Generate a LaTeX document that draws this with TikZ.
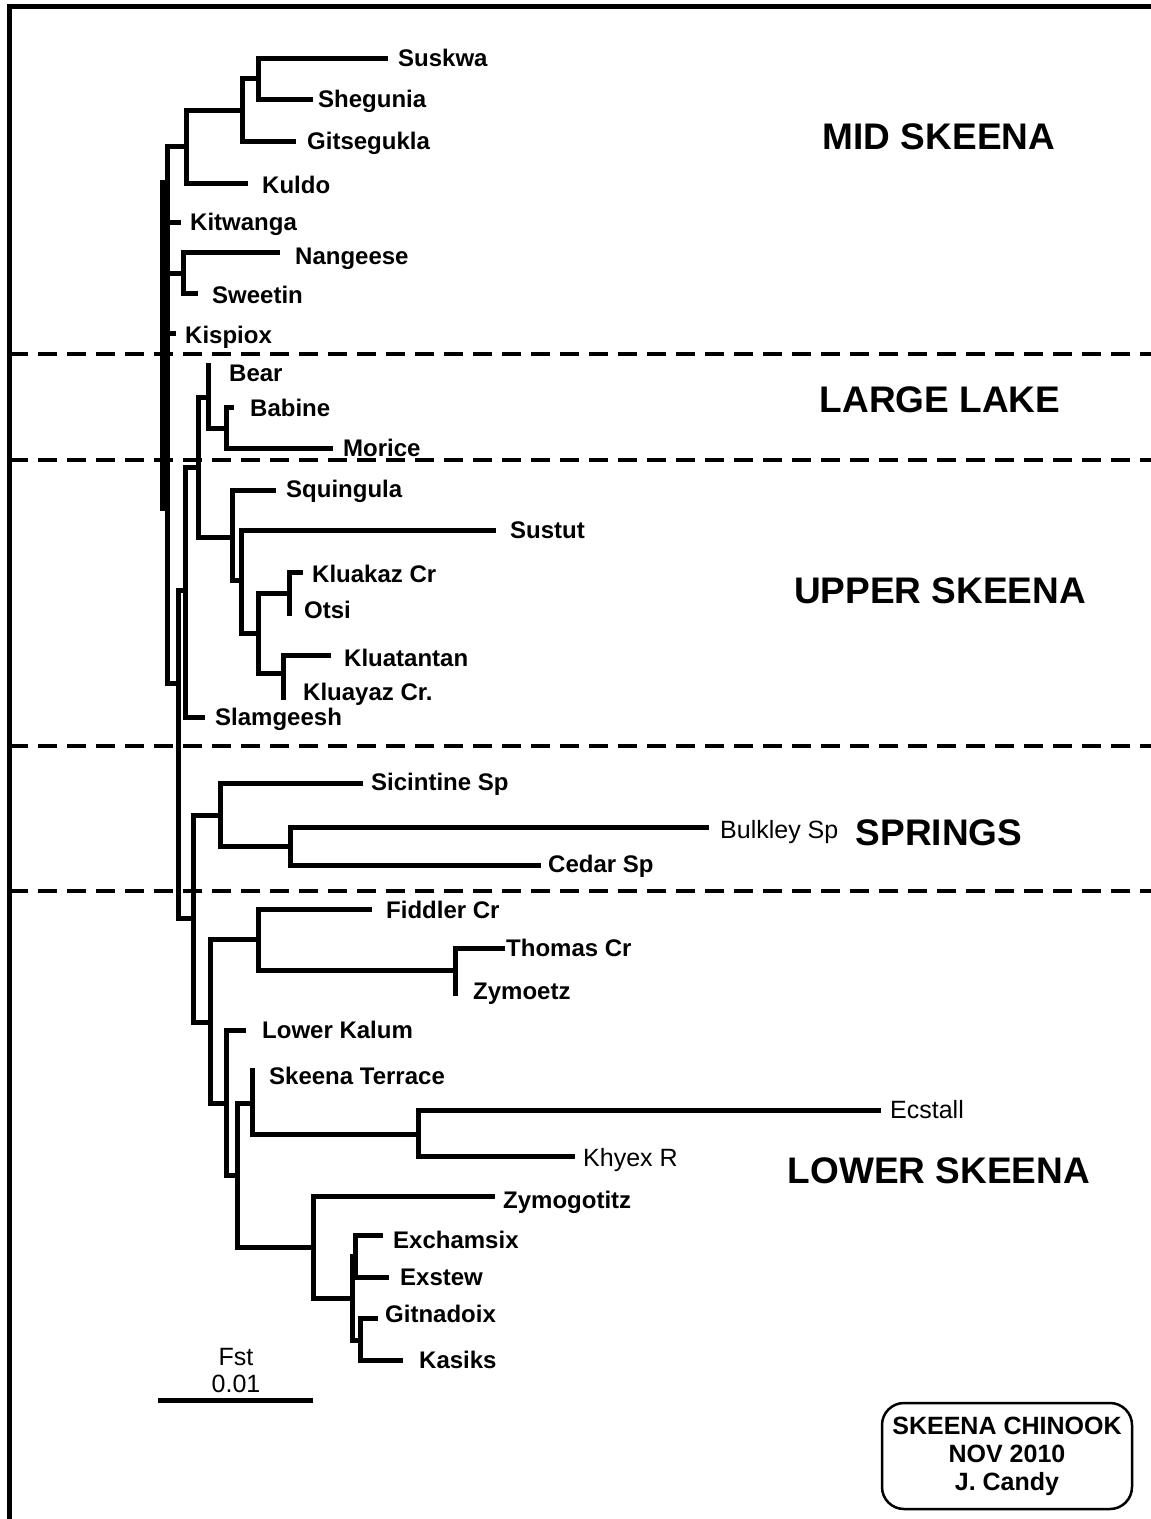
\documentclass[tikz,border=0pt]{standalone}
\usepackage{fontspec}
\setmainfont{Liberation Sans}
\begin{document}
\begin{tikzpicture}[x=1pt,y=-1pt,
  br/.style={line width=5pt, line cap=rect},
  lab/.style={font=\bfseries\fontsize{24}{26}\selectfont, inner sep=0pt, text height=17pt, text depth=0pt, anchor=west},
  labr/.style={font=\fontsize{25}{27}\selectfont, inner sep=0pt, text height=17pt, text depth=0pt, anchor=west},
  region/.style={font=\bfseries\fontsize{37}{40}\selectfont, inner sep=0pt, text height=26.5pt, text depth=0pt},
  divider/.style={line width=4pt, dash pattern=on 19pt off 10pt},
  box/.style={draw, line width=2.5pt, rounded corners=22pt, minimum width=250pt, minimum height=106pt, inner sep=0pt, align=center, font=\bfseries\fontsize{25}{28}\selectfont}]
\useasboundingbox (0,0) rectangle (1151,1519);
% frame
\draw[line width=5pt] (9.5,1519) -- (9.5,6) -- (1151,6);
% dividers
\foreach \yy in {354,460,746,891} \draw[divider] (9,\yy) -- (1151,\yy);
% ---------- coordinates ----------
% mid skeena
\coordinate (S1) at (258,78.5);
\coordinate (suskwa) at (385,58);
\coordinate (shegunia) at (310,99);
\coordinate (S2) at (242,110);
\coordinate (gitsegukla) at (293,141);
\coordinate (S3) at (186,146);
\coordinate (kuldo) at (245,183);
\coordinate (R) at (167,414.5);
\coordinate (kitwanga) at (178,222);
\coordinate (NS) at (183,273);
\coordinate (nangeese) at (277,252);
\coordinate (sweetin) at (195,293);
\coordinate (kispiox) at (173,333);
\coordinate (R0a) at (162.5,182);
\coordinate (R0b) at (162.5,508);
\coordinate (U7) at (178,683);
% large lake / upper skeena
\coordinate (U6) at (185,590);
\coordinate (slamgeesh) at (202,717);
\coordinate (B3) at (198,467);
\coordinate (B1) at (208,397);
\coordinate (bear) at (208,365);
\coordinate (B2) at (226,428);
\coordinate (babine) at (231,407);
\coordinate (morice) at (330,448);
\coordinate (U1) at (232,537);
\coordinate (squingula) at (273,490);
\coordinate (U2) at (241,580);
\coordinate (sustut) at (493,530);
\coordinate (U3) at (258,633);
\coordinate (U4) at (289,593);
\coordinate (kluakaz) at (300,572);
\coordinate (otsi) at (289,613);
\coordinate (U5) at (283,673);
\coordinate (kluatantan) at (328,655);
\coordinate (kluayaz) at (283,697);
% springs
\coordinate (Sp3) at (193,918);
\coordinate (Sp2) at (220,815);
\coordinate (sicintine) at (360,783);
\coordinate (Sp1) at (290,846);
\coordinate (bulkley) at (706,827);
\coordinate (cedar) at (538,865);
% lower skeena
\coordinate (L3) at (210,1022);
\coordinate (L1) at (258,939);
\coordinate (fiddler) at (369,909);
\coordinate (L2) at (455,970);
\coordinate (thomas) at (502,948);
\coordinate (zymoetz) at (455,993);
\coordinate (L4) at (226,1103);
\coordinate (lowerkalum) at (243,1030);
\coordinate (L5) at (237,1175);
\coordinate (L6) at (252,1103);
\coordinate (skeenaterrace) at (252,1070);
\coordinate (L7) at (418,1134);
\coordinate (ecstall) at (878,1110);
\coordinate (khyex) at (572,1156);
\coordinate (L8) at (313,1247);
\coordinate (zymogotitz) at (492,1196);
\coordinate (L9) at (352,1298);
\coordinate (L10) at (355,1256);
\coordinate (exchamsix) at (380,1235);
\coordinate (exstew) at (386,1277);
\coordinate (L11) at (360,1340);
\coordinate (gitnadoix) at (375,1318);
\coordinate (kasiks) at (400,1360);
% ---------- branches ----------
\draw[br] (S1) |- (suskwa);
\draw[br] (S1) |- (shegunia);
\draw[br] (S2) |- (S1);
\draw[br] (S2) |- (gitsegukla);
\draw[br] (S3) |- (S2);
\draw[br] (S3) |- (kuldo);
\draw[br] (R) |- (S3);
\draw[br] (R) |- (kitwanga);
\draw[br] (R) |- (NS);
\draw[br] (NS) |- (nangeese);
\draw[br] (NS) |- (sweetin);
\draw[br] (R) |- (kispiox);
\draw[br] (R) |- (U7);
\draw[br] (R0a -| R) -- (R0a) -- (R0b) -- (R0b -| R);
\draw[br] (U7) |- (U6);
\draw[br] (U7) |- (Sp3);
\draw[br] (U6) |- (B3);
\draw[br] (U6) |- (slamgeesh);
\draw[br] (B3) |- (B1);
\draw[br] (B3) |- (U1);
\draw[br] (B1) |- (bear);
\draw[br] (B1) |- (B2);
\draw[br] (B2) |- (babine);
\draw[br] (B2) |- (morice);
\draw[br] (U1) |- (squingula);
\draw[br] (U1) |- (U2);
\draw[br] (U2) |- (sustut);
\draw[br] (U2) |- (U3);
\draw[br] (U3) |- (U4);
\draw[br] (U3) |- (U5);
\draw[br] (U4) |- (kluakaz);
\draw[br] (U4) |- (otsi);
\draw[br] (U5) |- (kluatantan);
\draw[br] (U5) |- (kluayaz);
\draw[br] (Sp3) |- (Sp2);
\draw[br] (Sp3) |- (L3);
\draw[br] (Sp2) |- (sicintine);
\draw[br] (Sp2) |- (Sp1);
\draw[br] (Sp1) |- (bulkley);
\draw[br] (Sp1) |- (cedar);
\draw[br] (L3) |- (L1);
\draw[br] (L3) |- (L4);
\draw[br] (L1) |- (fiddler);
\draw[br] (L1) |- (L2);
\draw[br] (L2) |- (thomas);
\draw[br] (L2) |- (zymoetz);
\draw[br] (L4) |- (lowerkalum);
\draw[br] (L4) |- (L5);
\draw[br] (L5) |- (L6);
\draw[br] (L5) |- (L8);
\draw[br] (L6) |- (skeenaterrace);
\draw[br] (L6) |- (L7);
\draw[br] (L7) |- (ecstall);
\draw[br] (L7) |- (khyex);
\draw[br] (L8) |- (zymogotitz);
\draw[br] (L8) |- (L9);
\draw[br] (L9) |- (L10);
\draw[br] (L9) |- (L11);
\draw[br] (L10) |- (exchamsix);
\draw[br] (L10) |- (exstew);
\draw[br] (L11) |- (gitnadoix);
\draw[br] (L11) |- (kasiks);
% ---------- leaf labels ----------
\node[lab] (lsuskwa) at (398,58) {Suskwa};
\node[lab] (lshegunia) at (318,99) {Shegunia};
\node[lab] (lgitsegukla) at (307,141) {Gitsegukla};
\node[lab] (lkuldo) at (262,185) {Kuldo};
\node[lab] (lkitwanga) at (190,222) {Kitwanga};
\node[lab] (lnangeese) at (295,256) {Nangeese};
\node[lab] (lsweetin) at (212,295) {Sweetin};
\node[lab] (lkispiox) at (185,335) {Kispiox};
\node[lab] (lbear) at (229,373) {Bear};
\node[lab] (lbabine) at (250,408) {Babine};
\node[lab] (lmorice) at (343,448) {Morice};
\node[lab] (lsquingula) at (286,489) {Squingula};
\node[lab] (lsustut) at (510,530) {Sustut};
\node[lab] (lkluakaz) at (312,574) {Kluakaz Cr};
\node[lab] (lotsi) at (304,610) {Otsi};
\node[lab] (lkluatantan) at (344,658) {Kluatantan};
\node[lab] (lkluayaz) at (303,692) {Kluayaz Cr.};
\node[lab] (lslamgeesh) at (215,717) {Slamgeesh};
\node[lab] (lsicintine) at (371,782) {Sicintine Sp};
\node[labr] (lbulkley) at (720,830) {Bulkley Sp};
\node[lab] (lcedar) at (548,864) {Cedar Sp};
\node[lab] (lfiddler) at (386,910) {Fiddler Cr};
\node[lab] (lthomas) at (506,948) {Thomas Cr};
\node[lab] (lzymoetz) at (473,991) {Zymoetz};
\node[lab] (llowerkalum) at (262,1030) {Lower Kalum};
\node[lab] (lskeenaterrace) at (269,1076) {Skeena Terrace};
\node[labr] (lecstall) at (890,1110) {Ecstall};
\node[labr] (lkhyex) at (583,1158) {Khyex R};
\node[lab] (lzymogotitz) at (503,1200) {Zymogotitz};
\node[lab] (lexchamsix) at (393,1240) {Exchamsix};
\node[lab] (lexstew) at (400,1277) {Exstew};
\node[lab] (lgitnadoix) at (385,1314) {Gitnadoix};
\node[lab] (lkasiks) at (419,1360) {Kasiks};
% ---------- region labels ----------
\node[region] (rmid) at (939,136) {MID SKEENA};
\node[region] (rlarge) at (940,399) {LARGE LAKE};
\node[region] (rupper) at (940,590) {UPPER SKEENA};
\node[region] (rsprings) at (939,832) {SPRINGS};
\node[region] (rlower) at (939,1170) {LOWER SKEENA};
% ---------- scale bar ----------
\coordinate (sb1) at (158,1400);
\coordinate (sb2) at (313,1400);
\draw[line width=5pt] (sb1) -- (sb2);
\node[labr, anchor=center] (fst) at (236,1357) {Fst};
\node[labr, anchor=center] (val) at (236,1384) {0.01};
% ---------- credit box ----------
\node[box] (credit) at (1007,1456) {SKEENA CHINOOK\\NOV 2010\\J. Candy};
\end{tikzpicture}
\end{document}
